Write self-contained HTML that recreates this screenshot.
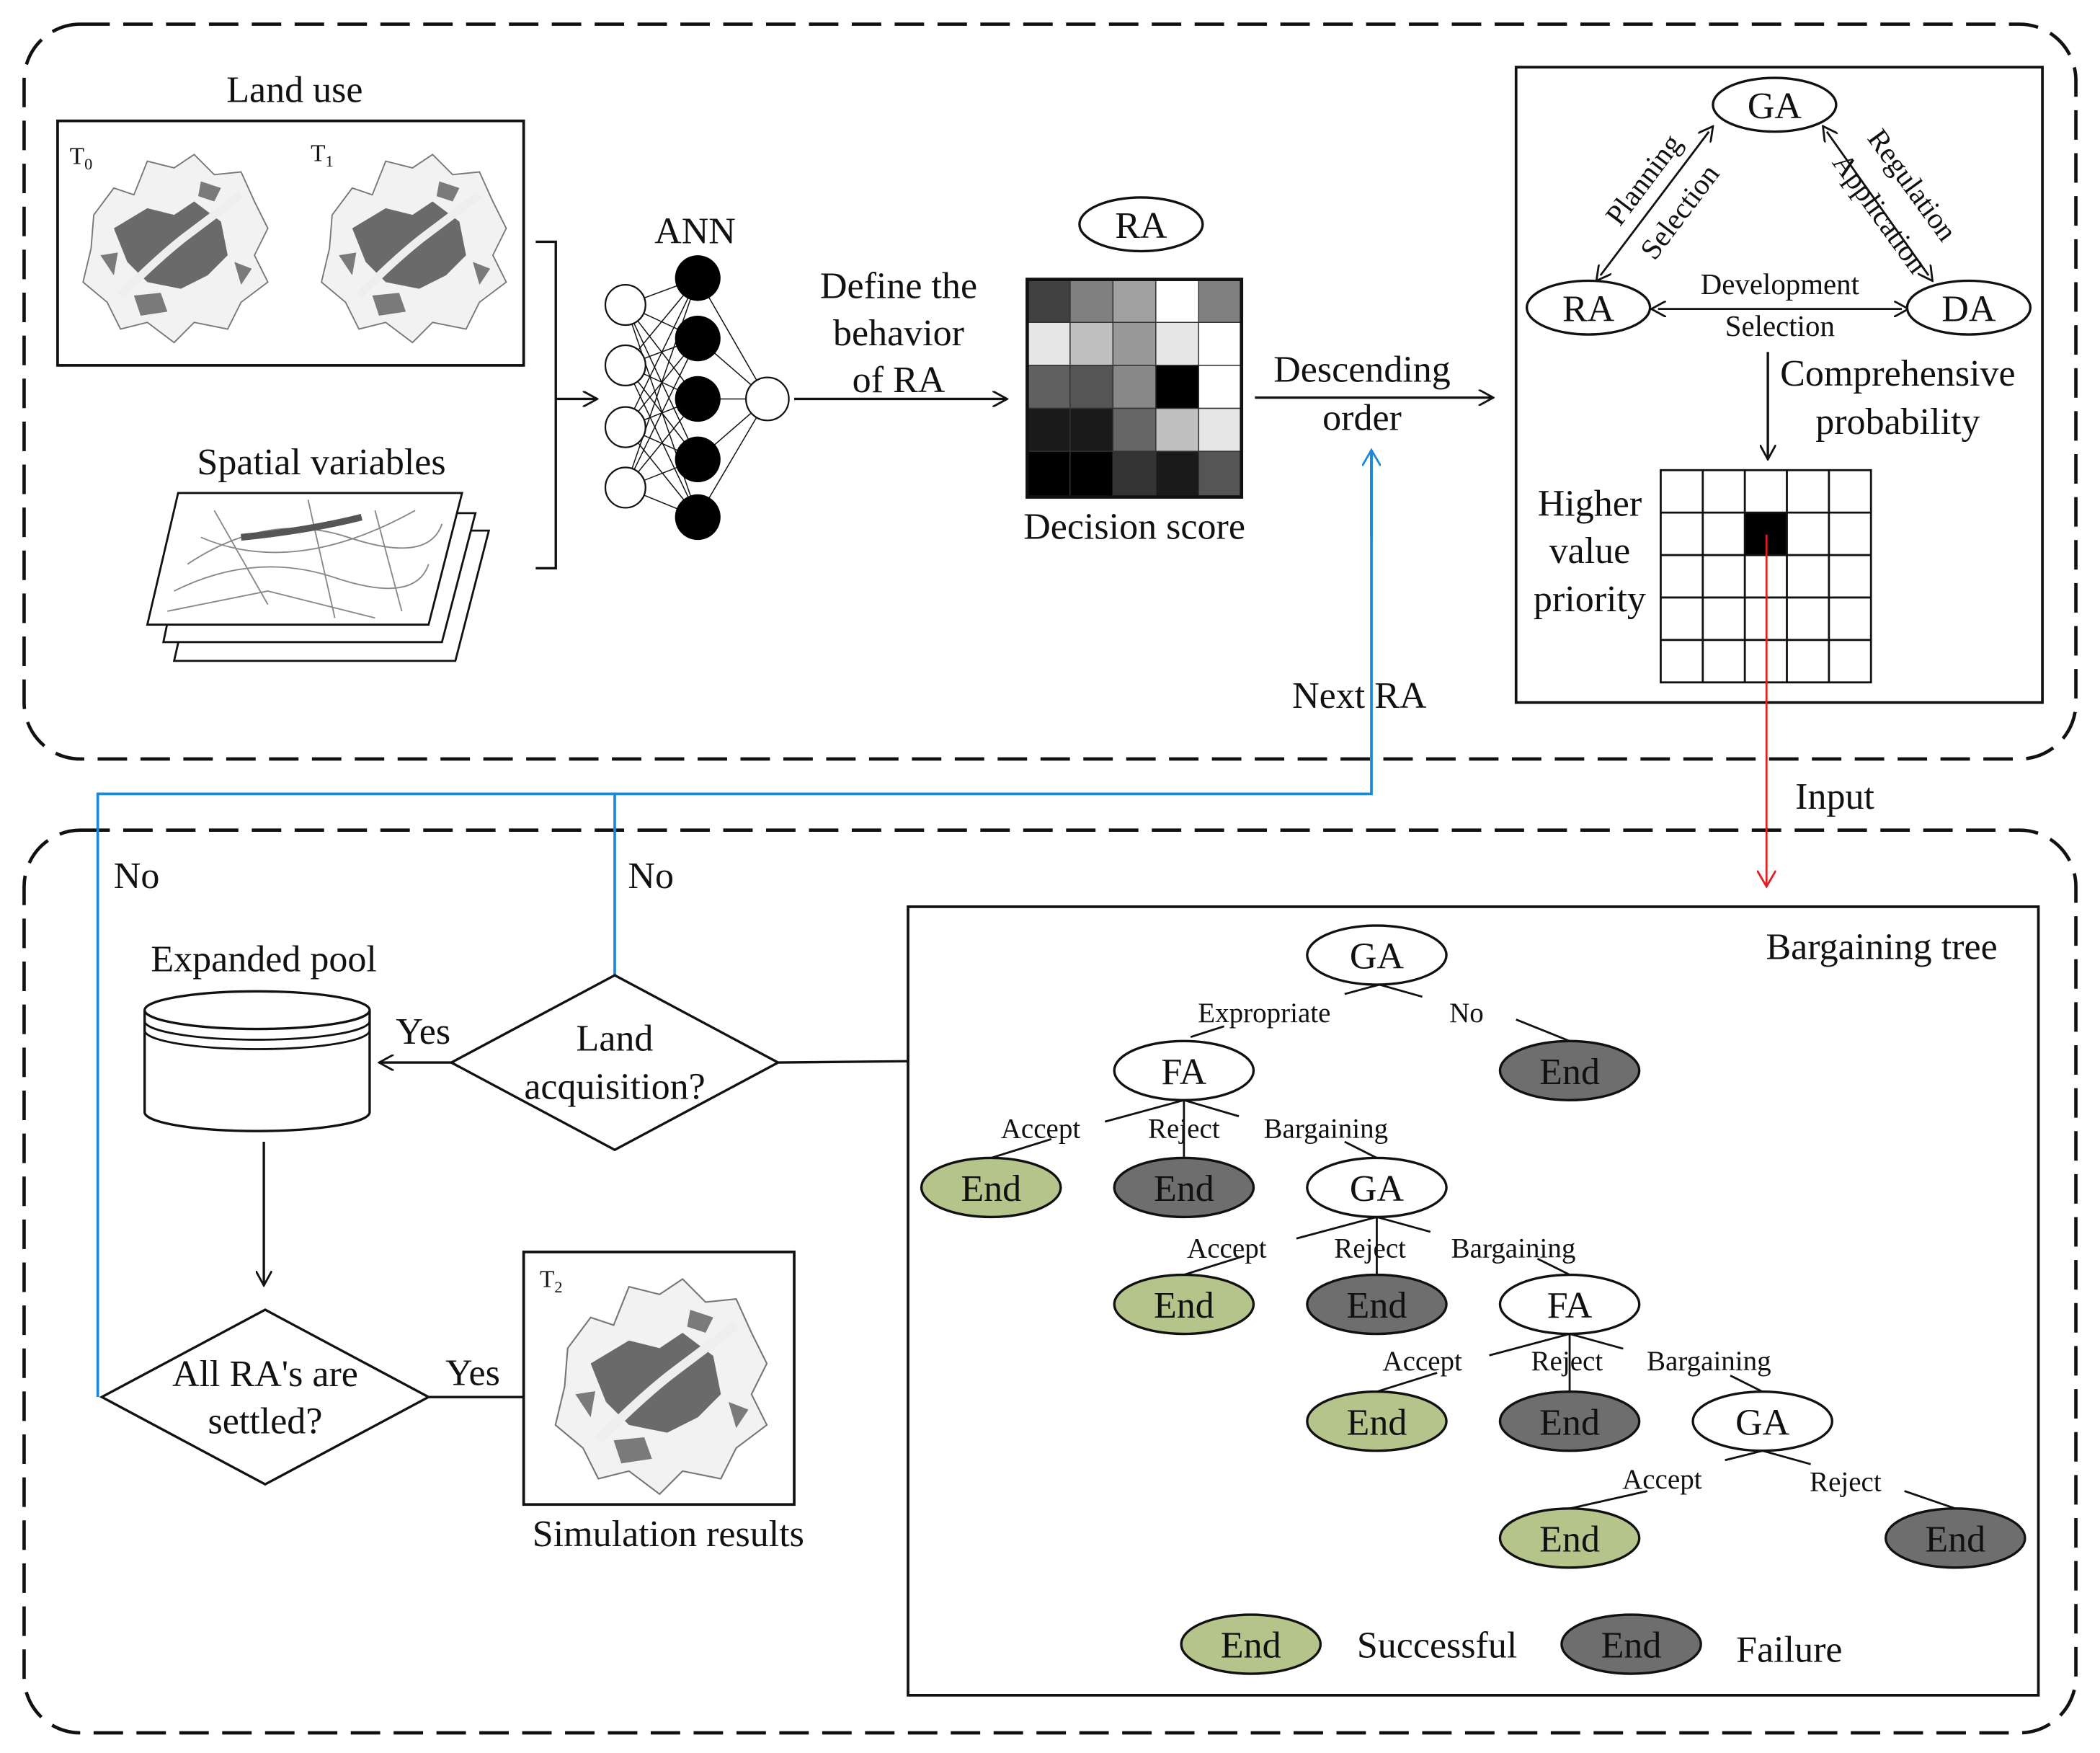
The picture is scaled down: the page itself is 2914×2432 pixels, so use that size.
<!DOCTYPE html>
<html><head><meta charset="utf-8"><style>
html,body{margin:0;padding:0;background:#fff;}
svg{display:block;}
text{font-family:"Liberation Serif",serif;fill:#111;}
</style></head><body>
<svg width="2914" height="2432" viewBox="0 0 1568 1305" preserveAspectRatio="none" xmlns="http://www.w3.org/2000/svg">
<defs>
<marker id="ar" markerWidth="12" markerHeight="12" refX="11" refY="6" orient="auto" markerUnits="userSpaceOnUse"><path d="M0,0 L11,6 L0,12" fill="none" stroke="#111" stroke-width="1.5"/></marker>
<marker id="arr" markerWidth="14" markerHeight="14" refX="12" refY="7" orient="auto" markerUnits="userSpaceOnUse"><path d="M0,0 L12,7 L0,14" fill="none" stroke="#e02020" stroke-width="1.5"/></marker>
<marker id="arb" markerWidth="14" markerHeight="14" refX="12" refY="7" orient="auto" markerUnits="userSpaceOnUse"><path d="M0,0 L12,7 L0,14" fill="none" stroke="#1e88d8" stroke-width="1.5"/></marker>
<marker id="ar2" markerWidth="12" markerHeight="12" refX="6" refY="6" orient="auto-start-reverse" markerUnits="userSpaceOnUse"><path d="M0,0 L11,6 L0,12" fill="none" stroke="#111" stroke-width="1.5"/></marker>
<symbol id="map" viewBox="0 0 160 160">
<path d="M20,60 L35,40 L50,45 L60,20 L80,25 L95,15 L110,30 L130,28 L140,50 L150,70 L140,90 L150,110 L130,125 L120,145 L95,140 L80,155 L60,140 L40,145 L30,125 L12,110 L18,85 Z" fill="#f2f2f2" stroke="#777" stroke-width="1"/>
<path d="M35,70 L60,55 L80,60 L95,50 L115,65 L120,90 L105,105 L85,115 L60,110 L45,95 Z" fill="#6a6a6a"/>
<path d="M50,120 L70,118 L75,132 L55,135 Z M100,35 L115,40 L110,50 L98,46 Z M125,95 L138,100 L130,112 Z M25,90 L38,88 L35,105 Z" fill="#7a7a7a"/>
<path d="M40,120 Q70,90 90,75 T130,45" fill="none" stroke="#eee" stroke-width="6"/>
</symbol>
</defs>

<rect x="18" y="18" width="1532" height="547" rx="42" fill="none" stroke="#111" stroke-width="2.5" stroke-dasharray="22,10"/>
<rect x="18" y="618" width="1532" height="672" rx="42" fill="none" stroke="#111" stroke-width="2.5" stroke-dasharray="22,10"/>

<text x="220" y="76" font-size="28" text-anchor="middle">Land use</text>
<rect x="43" y="90" width="348" height="182" fill="#fff" stroke="#111" stroke-width="2"/>
<use href="#map" x="50" y="100" width="160" height="160"/>
<use href="#map" x="228" y="100" width="160" height="160"/>
<text x="52" y="122" font-size="18">T<tspan font-size="12" dy="4">0</tspan></text>
<text x="232" y="120" font-size="18">T<tspan font-size="12" dy="4">1</tspan></text>

<text x="240" y="353" font-size="28" text-anchor="middle">Spatial variables</text>
<g stroke="#111" stroke-width="1.5" fill="#fff">
<path d="M152,395 L365,395 L340,492 L130,492 Z"/>
<path d="M142,382 L355,382 L330,478 L122,478 Z"/>
<path d="M133,367 L345,367 L320,465 L110,465 Z"/>
</g>
<path d="M140,420 Q200,380 260,400 T330,390 M130,440 Q190,410 250,430 T320,420 M160,380 L200,450 M230,372 L250,460 M280,380 L300,455 M150,400 Q220,430 310,380 M125,455 L200,440 L280,460" fill="none" stroke="#888" stroke-width="1"/>
<path d="M180,400 Q230,395 270,385" stroke="#555" stroke-width="5" fill="none"/>

<path d="M400,180 L415,180 L415,423 L400,423" fill="none" stroke="#111" stroke-width="1.8"/>
<line x1="415" y1="297" x2="446" y2="297" stroke="#111" stroke-width="1.8" marker-end="url(#ar)"/>

<text x="519" y="181" font-size="28" text-anchor="middle">ANN</text>
<g stroke="#111" stroke-width="0.8">
<line x1="467" y1="227" x2="521" y2="207"/><line x1="467" y1="227" x2="521" y2="252"/><line x1="467" y1="227" x2="521" y2="297"/><line x1="467" y1="227" x2="521" y2="342"/><line x1="467" y1="227" x2="521" y2="385"/>
<line x1="467" y1="272" x2="521" y2="207"/><line x1="467" y1="272" x2="521" y2="252"/><line x1="467" y1="272" x2="521" y2="297"/><line x1="467" y1="272" x2="521" y2="342"/><line x1="467" y1="272" x2="521" y2="385"/>
<line x1="467" y1="318" x2="521" y2="207"/><line x1="467" y1="318" x2="521" y2="252"/><line x1="467" y1="318" x2="521" y2="297"/><line x1="467" y1="318" x2="521" y2="342"/><line x1="467" y1="318" x2="521" y2="385"/>
<line x1="467" y1="363" x2="521" y2="207"/><line x1="467" y1="363" x2="521" y2="252"/><line x1="467" y1="363" x2="521" y2="297"/><line x1="467" y1="363" x2="521" y2="342"/><line x1="467" y1="363" x2="521" y2="385"/>
<line x1="521" y1="207" x2="573" y2="297"/><line x1="521" y1="252" x2="573" y2="297"/><line x1="521" y1="297" x2="573" y2="297"/><line x1="521" y1="342" x2="573" y2="297"/><line x1="521" y1="385" x2="573" y2="297"/>
</g>
<g stroke="#111" stroke-width="1.2" fill="#fff">
<circle cx="467" cy="227" r="15"/><circle cx="467" cy="272" r="15"/><circle cx="467" cy="318" r="15"/><circle cx="467" cy="363" r="15"/>
<circle cx="573" cy="297" r="16"/>
</g>
<g fill="#000"><circle cx="521" cy="207" r="17"/><circle cx="521" cy="252" r="17"/><circle cx="521" cy="297" r="17"/><circle cx="521" cy="342" r="17"/><circle cx="521" cy="385" r="17"/></g>

<line x1="593" y1="297" x2="752" y2="297" stroke="#111" stroke-width="1.8" marker-end="url(#ar)"/>
<text x="671" y="222" font-size="28" text-anchor="middle">Define the</text>
<text x="671" y="257" font-size="28" text-anchor="middle">behavior</text>
<text x="671" y="292" font-size="28" text-anchor="middle">of RA</text>

<ellipse cx="852" cy="167" rx="46" ry="20" fill="#fff" stroke="#111" stroke-width="1.8"/>
<text x="852" y="177" font-size="28" text-anchor="middle">RA</text>
<g stroke="#333" stroke-width="0.8">
<rect x="767" y="208" width="32" height="32" fill="#404040"/><rect x="799" y="208" width="32" height="32" fill="#808080"/><rect x="831" y="208" width="32" height="32" fill="#a0a0a0"/><rect x="863" y="208" width="32" height="32" fill="#fff"/><rect x="895" y="208" width="32" height="32" fill="#808080"/>
<rect x="767" y="240" width="32" height="32" fill="#e6e6e6"/><rect x="799" y="240" width="32" height="32" fill="#c0c0c0"/><rect x="831" y="240" width="32" height="32" fill="#999"/><rect x="863" y="240" width="32" height="32" fill="#e6e6e6"/><rect x="895" y="240" width="32" height="32" fill="#fff"/>
<rect x="767" y="272" width="32" height="32" fill="#606060"/><rect x="799" y="272" width="32" height="32" fill="#555"/><rect x="831" y="272" width="32" height="32" fill="#888"/><rect x="863" y="272" width="32" height="32" fill="#000"/><rect x="895" y="272" width="32" height="32" fill="#fff"/>
<rect x="767" y="304" width="32" height="32" fill="#1a1a1a"/><rect x="799" y="304" width="32" height="32" fill="#1a1a1a"/><rect x="831" y="304" width="32" height="32" fill="#666"/><rect x="863" y="304" width="32" height="32" fill="#c0c0c0"/><rect x="895" y="304" width="32" height="32" fill="#e6e6e6"/>
<rect x="767" y="336" width="32" height="34" fill="#000"/><rect x="799" y="336" width="32" height="34" fill="#000"/><rect x="831" y="336" width="32" height="34" fill="#333"/><rect x="863" y="336" width="32" height="34" fill="#1a1a1a"/><rect x="895" y="336" width="32" height="34" fill="#555"/>
</g>
<rect x="767" y="208" width="160" height="162" fill="none" stroke="#111" stroke-width="2.5"/>
<text x="847" y="401" font-size="28" text-anchor="middle">Decision score</text>

<line x1="937" y1="296" x2="1115" y2="296" stroke="#111" stroke-width="1.8" marker-end="url(#ar)"/>
<text x="1017" y="284" font-size="28" text-anchor="middle">Descending</text>
<text x="1017" y="320" font-size="28" text-anchor="middle">order</text>

<rect x="1132" y="50" width="393" height="473" fill="none" stroke="#111" stroke-width="2"/>
<line x1="1276" y1="98" x2="1195" y2="205" stroke="#111" stroke-width="1.5" marker-start="url(#ar2)" marker-end="url(#ar2)"/>
<line x1="1364" y1="98" x2="1440" y2="205" stroke="#111" stroke-width="1.5" marker-start="url(#ar2)" marker-end="url(#ar2)"/>
<line x1="1238" y1="230" x2="1420" y2="230" stroke="#111" stroke-width="1.5" marker-start="url(#ar2)" marker-end="url(#ar2)"/>
<ellipse cx="1325" cy="78" rx="46" ry="20" fill="#fff" stroke="#111" stroke-width="1.8"/>
<text x="1325" y="88" font-size="28" text-anchor="middle">GA</text>
<ellipse cx="1186" cy="229" rx="46" ry="20" fill="#fff" stroke="#111" stroke-width="1.8"/>
<text x="1186" y="239" font-size="28" text-anchor="middle">RA</text>
<ellipse cx="1470" cy="229" rx="46" ry="20" fill="#fff" stroke="#111" stroke-width="1.8"/>
<text x="1470" y="239" font-size="28" text-anchor="middle">DA</text>
<text font-size="22" text-anchor="middle" transform="translate(1233,138) rotate(-53)">Planning</text>
<text font-size="22" text-anchor="middle" transform="translate(1260,162) rotate(-53)">Selection</text>
<text font-size="22" text-anchor="middle" transform="translate(1422,142) rotate(54)">Regulation</text>
<text font-size="22" text-anchor="middle" transform="translate(1398,163) rotate(54)">Application</text>
<text x="1329" y="219" font-size="22" text-anchor="middle">Development</text>
<text x="1329" y="250" font-size="22" text-anchor="middle">Selection</text>
<line x1="1320" y1="262" x2="1320" y2="342" stroke="#111" stroke-width="1.8" marker-end="url(#ar)"/>
<text x="1417" y="287" font-size="28" text-anchor="middle">Comprehensive</text>
<text x="1417" y="323" font-size="28" text-anchor="middle">probability</text>
<text x="1187" y="384" font-size="28" text-anchor="middle">Higher</text>
<text x="1187" y="419" font-size="28" text-anchor="middle">value</text>
<text x="1187" y="455" font-size="28" text-anchor="middle">priority</text>
<rect x="1303" y="382" width="31.4" height="31.6" fill="#000"/>
<g stroke="#111" stroke-width="1.5" fill="none">
<rect x="1240" y="350" width="157" height="158"/>
<line x1="1271.4" y1="350" x2="1271.4" y2="508"/><line x1="1302.8" y1="350" x2="1302.8" y2="508"/><line x1="1334.2" y1="350" x2="1334.2" y2="508"/><line x1="1365.6" y1="350" x2="1365.6" y2="508"/>
<line x1="1240" y1="381.6" x2="1397" y2="381.6"/><line x1="1240" y1="413.2" x2="1397" y2="413.2"/><line x1="1240" y1="444.8" x2="1397" y2="444.8"/><line x1="1240" y1="476.4" x2="1397" y2="476.4"/>
</g>
<line x1="1319" y1="398" x2="1319" y2="660" stroke="#e02020" stroke-width="1.5" marker-end="url(#arr)"/>
<text x="1370" y="602" font-size="28" text-anchor="middle">Input</text>

<path d="M1024,337 L1024,591 L73,591 L73,1040" fill="none" stroke="#1e88d8" stroke-width="2"/>
<line x1="1024" y1="400" x2="1024" y2="335" stroke="#1e88d8" stroke-width="2" marker-end="url(#arb)"/>
<line x1="459" y1="591" x2="459" y2="726" stroke="#1e88d8" stroke-width="2"/>
<text x="1015" y="527" font-size="28" text-anchor="middle">Next RA</text>
<text x="102" y="661" font-size="28" text-anchor="middle">No</text>
<text x="486" y="661" font-size="28" text-anchor="middle">No</text>

<path d="M459,726 L581,791 L459,856 L337,791 Z" fill="#fff" stroke="#111" stroke-width="1.8"/>
<text x="459" y="782" font-size="28" text-anchor="middle">Land</text>
<text x="459" y="818" font-size="28" text-anchor="middle">acquisition?</text>
<line x1="581" y1="791" x2="678" y2="790" stroke="#111" stroke-width="1.8"/>
<line x1="337" y1="791" x2="283" y2="791" stroke="#111" stroke-width="1.8" marker-end="url(#ar)"/>
<text x="316" y="777" font-size="28" text-anchor="middle">Yes</text>
<text x="197" y="723" font-size="28" text-anchor="middle">Expanded pool</text>
<path d="M108,752 L108,828 A84,14 0 0 0 276,828 L276,752" fill="#fff" stroke="#111" stroke-width="1.8"/>
<ellipse cx="192" cy="752" rx="84" ry="14" fill="#fff" stroke="#111" stroke-width="1.8"/>
<path d="M108,760 A84,14 0 0 0 276,760 M108,767 A84,14 0 0 0 276,767" fill="none" stroke="#111" stroke-width="1.5"/>
<line x1="197" y1="850" x2="197" y2="957" stroke="#111" stroke-width="1.8" marker-end="url(#ar)"/>
<path d="M198,975 L320,1040 L198,1105 L76,1040 Z" fill="#fff" stroke="#111" stroke-width="1.8"/>
<text x="198" y="1032" font-size="28" text-anchor="middle">All RA's are</text>
<text x="198" y="1067" font-size="28" text-anchor="middle">settled?</text>
<line x1="320" y1="1040" x2="391" y2="1040" stroke="#111" stroke-width="1.8"/>
<text x="353" y="1031" font-size="28" text-anchor="middle">Yes</text>
<rect x="391" y="932" width="202" height="188" fill="#fff" stroke="#111" stroke-width="2"/>
<use href="#map" x="395" y="935" width="195" height="183"/>
<text x="403" y="958" font-size="18">T<tspan font-size="12" dy="4">2</tspan></text>
<text x="499" y="1151" font-size="28" text-anchor="middle">Simulation results</text>

<rect x="678" y="675" width="844" height="587" fill="none" stroke="#111" stroke-width="2"/>
<text x="1405" y="714" font-size="28" text-anchor="middle">Bargaining tree</text>
<g stroke="#111" stroke-width="1.5" fill="none">
<path d="M1004,740 L1030,733 L1062,742"/>
<path d="M889,772 L914,764"/><path d="M1132,759 L1172,775"/>
<path d="M825,835 L884,819 L925,831 M884,819 L884,862"/>
<path d="M740,862 L785,848"/><path d="M1004,850 L1028,862"/>
<path d="M968,922 L1028,906 L1068,917 M1028,906 L1028,949"/>
<path d="M884,949 L929,935"/><path d="M1148,937 L1172,949"/>
<path d="M1112,1009 L1172,993 L1212,1004 M1172,993 L1172,1036"/>
<path d="M1028,1036 L1073,1022"/><path d="M1292,1024 L1316,1036"/>
<path d="M1288,1087 L1316,1080 L1352,1090"/>
<path d="M1172,1123 L1230,1110"/><path d="M1422,1110 L1460,1123"/>
</g>
<g font-size="21" text-anchor="middle">
<text x="944" y="761">Expropriate</text><text x="1095" y="761">No</text>
<text x="777" y="847">Accept</text><text x="884" y="847">Reject</text><text x="990" y="847">Bargaining</text>
<text x="916" y="936">Accept</text><text x="1023" y="936">Reject</text><text x="1130" y="936">Bargaining</text>
<text x="1062" y="1020">Accept</text><text x="1170" y="1020">Reject</text><text x="1276" y="1020">Bargaining</text>
<text x="1241" y="1108">Accept</text><text x="1378" y="1110">Reject</text>
</g>
<g stroke="#111" stroke-width="1.8">
<ellipse cx="1028" cy="711" rx="52" ry="22" fill="#fff"/>
<ellipse cx="884" cy="797" rx="52" ry="22" fill="#fff"/>
<ellipse cx="1172" cy="797" rx="52" ry="22" fill="#6e6e6e"/>
<ellipse cx="740" cy="884" rx="52" ry="22" fill="#b5c48a"/>
<ellipse cx="884" cy="884" rx="52" ry="22" fill="#6e6e6e"/>
<ellipse cx="1028" cy="884" rx="52" ry="22" fill="#fff"/>
<ellipse cx="884" cy="971" rx="52" ry="22" fill="#b5c48a"/>
<ellipse cx="1028" cy="971" rx="52" ry="22" fill="#6e6e6e"/>
<ellipse cx="1172" cy="971" rx="52" ry="22" fill="#fff"/>
<ellipse cx="1028" cy="1058" rx="52" ry="22" fill="#b5c48a"/>
<ellipse cx="1172" cy="1058" rx="52" ry="22" fill="#6e6e6e"/>
<ellipse cx="1316" cy="1058" rx="52" ry="22" fill="#fff"/>
<ellipse cx="1172" cy="1145" rx="52" ry="22" fill="#b5c48a"/>
<ellipse cx="1460" cy="1145" rx="52" ry="22" fill="#6e6e6e"/>
<ellipse cx="934" cy="1224" rx="52" ry="22" fill="#b5c48a"/>
<ellipse cx="1218" cy="1224" rx="52" ry="22" fill="#6e6e6e"/>
</g>
<g font-size="28" text-anchor="middle">
<text x="1028" y="721">GA</text><text x="884" y="807">FA</text><text x="1172" y="807">End</text>
<text x="740" y="894">End</text><text x="884" y="894">End</text><text x="1028" y="894">GA</text>
<text x="884" y="981">End</text><text x="1028" y="981">End</text><text x="1172" y="981">FA</text>
<text x="1028" y="1068">End</text><text x="1172" y="1068">End</text><text x="1316" y="1068">GA</text>
<text x="1172" y="1155">End</text><text x="1460" y="1155">End</text>
<text x="934" y="1234">End</text><text x="1218" y="1234">End</text>
<text x="1073" y="1234">Successful</text><text x="1336" y="1237">Failure</text>
</g>
</svg>
</body></html>
